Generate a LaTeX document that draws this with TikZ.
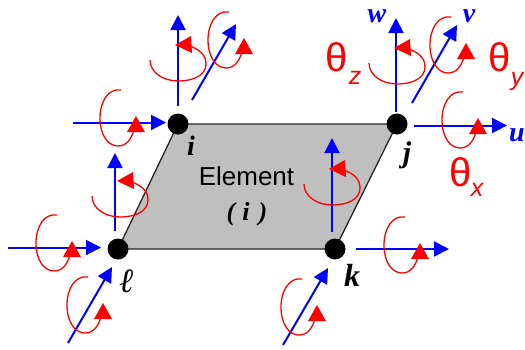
\documentclass[tikz,border=0pt]{standalone}
\usepackage{fontspec}
\setmainfont{Liberation Sans}
\newfontfamily\scriptlet{Liberation Serif}
\usetikzlibrary{arrows.meta}
\tikzset{
  dot/.style={circle,fill=black,inner sep=0pt,minimum size=21pt},
  plate/.style={draw=black!85,fill=black!25,line width=1.3pt},
  dof/.style={draw=blue,line width=2pt,-{Triangle[length=15pt,width=15pt]}},
  curl/.style={draw=red,line width=1.3pt},
  tip/.style={fill=red},
  lbl/.style={inner sep=0pt,font=\scriptlet\bfseries\itshape\fontsize{#1}{#1}\selectfont},
  lbl/.default=30pt,
  theta/.style={inner sep=0pt,text=red,font=\fontsize{40pt}{40pt}\selectfont},
  sub/.style={inner sep=0pt,text=red,font=\itshape\fontsize{25pt}{25pt}\selectfont},
}
\newcommand{\axisarrow}[3]{%
  \coordinate (#1a) at (#2); \coordinate (#1b) at (#3);
  \draw[dof] (#1a) -- (#1b);}
\newcommand{\sidecurl}[1]{%
  \begin{scope}[shift={(#1)}]
    \path[curl] (-15,-27) .. controls (-28,-29) and (-36,-15) .. (-36,1)
      .. controls (-36,18) and (-28,29) .. (-18,29)
      .. controls (-10,29) and (-5,23) .. (-2,13);
    \path[tip] (0,-1) -- (9,15) -- (-9,15) -- cycle;
  \end{scope}}
\newcommand{\upcurl}[1]{%
  \begin{scope}[shift={(#1)}]
    \path[curl] (-26,15) .. controls (-26,28) and (-12,36) .. (2,36)
      .. controls (18,36) and (30,30) .. (30,19)
      .. controls (30,10) and (24,5) .. (14,1);
    \path[tip] (-1,0) -- (15,-9) -- (16,8) -- cycle;
  \end{scope}}
\begin{document}
\begin{tikzpicture}[x=1pt,y=-1pt]
\useasboundingbox (0,0) rectangle (525,349);
\coordinate (pi) at (178,124);
\coordinate (pj) at (397,124);
\coordinate (pk) at (335,249);
\coordinate (pl) at (118,249);
\path[plate] (pi) -- (pj) -- (pk) -- (pl) -- cycle;
\node[dot] (i) at (pi) {};
\node[dot] (j) at (pj) {};
\node[dot] (k) at (pk) {};
\node[dot] (l) at (pl) {};
% i
\axisarrow{ix}{73,122.5}{166,122.5}
\axisarrow{iz}{178,106}{178,15}
\axisarrow{iv}{192,100}{236,24}
\sidecurl{136,117}
\sidecurl{244,39}
\upcurl{176,45}
% j
\axisarrow{jx}{414,125.5}{507,125.5}
\axisarrow{jz}{396,112}{396,18}
\axisarrow{jv}{412,103}{457,25}
\sidecurl{478,119}
\sidecurl{466,44}
\upcurl{395,48}
% k
\axisarrow{kx}{356,249}{449,249}
\axisarrow{kz}{332,232}{332,138}
\axisarrow{kv}{283,345}{328,268}
\sidecurl{420,244}
\sidecurl{317,306}
\upcurl{330,169}
% l
\axisarrow{lx}{8,247.5}{101,247.5}
\axisarrow{lz}{115,231}{115,153}
\axisarrow{lv}{68,343}{112,267}
\sidecurl{72,242}
\sidecurl{103,304}
\upcurl{118,181}
% labels
\node (elem) at (246.5,176) {\fontsize{26pt}{26pt}\selectfont Element};
\node[lbl=26pt] (elemi) at (247,214) {(\hspace{7pt}i\hspace{9pt})};
\node[lbl=28pt] (li) at (191,146) {i};
\node[lbl=30pt] (lj) at (407,155) {j};
\node[lbl=32pt] (lk) at (352,275) {k};
\node[lbl=34pt] (ll) at (127,281) {ℓ};
\node[lbl=28pt,text=blue] (lu) at (517,135) {u};
\node[lbl=28pt,text=blue] (lv) at (469,16) {v};
\node[lbl=28pt,text=blue] (lw) at (377,16) {w};
\node[theta] (tz) at (337,57) {θ};
\node[sub] (sz) at (355,78) {z};
\node[theta] (ty) at (500,57) {θ};
\node[sub] (sy) at (517,81) {y};
\node[theta] (tx) at (461,172) {θ};
\node[sub] (sx) at (477,190) {x};
\end{tikzpicture}
\end{document}
